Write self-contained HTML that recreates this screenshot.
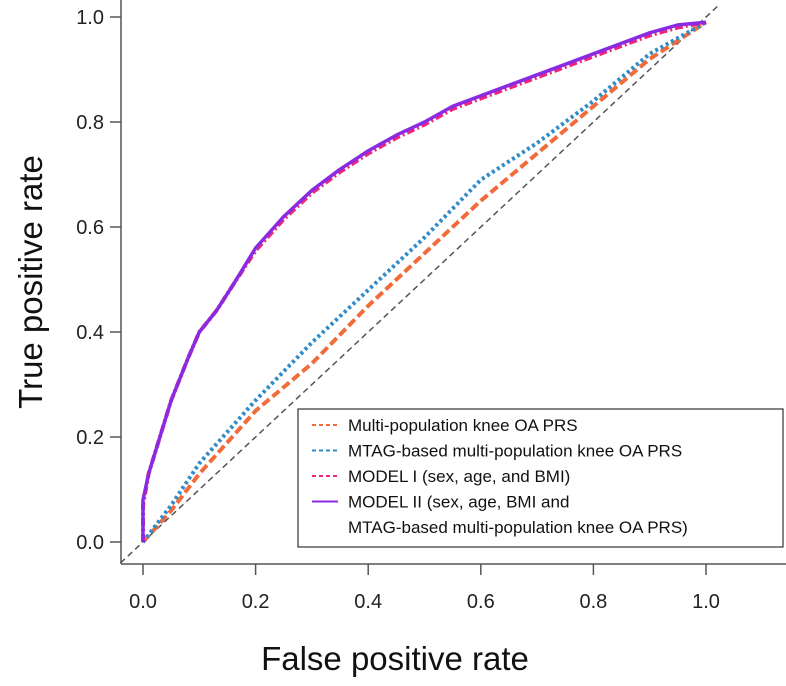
<!DOCTYPE html>
<html><head><meta charset="utf-8"><style>
body{margin:0;background:#fff;}
svg{display:block;font-family:"Liberation Sans",Arial,sans-serif;}
</style></head><body>
<svg id="chart" width="786" height="686">
<g id="axes"></g><g id="plot"></g>
<g>
<rect x="298" y="409" width="485" height="138" fill="#fff" stroke="#333" stroke-width="1.2"/>
<g id="legend-items"></g>
</g>
<text x="395" y="670" text-anchor="middle" font-size="33" fill="#111">False positive rate</text>
<text transform="translate(42,282) rotate(-90)" text-anchor="middle" font-size="33" fill="#111">True positive rate</text>
</svg>
<script>
const ticks=[0,0.2,0.4,0.6,0.8,1.0];
const tickLabels=["0.0","0.2","0.4","0.6","0.8","1.0"];
const fprM2=[0,0,0.01,0.03,0.05,0.08,0.1,0.13,0.16,0.2,0.25,0.3,0.35,0.4,0.45,0.5,0.55,0.6,0.65,0.7,0.75,0.8,0.85,0.9,0.95,1];
const tprM2=[0,0.08,0.13,0.2,0.27,0.35,0.4,0.44,0.49,0.56,0.62,0.67,0.71,0.745,0.775,0.8,0.83,0.85,0.87,0.89,0.91,0.93,0.95,0.97,0.985,0.99];
const tprM1=[0,0.07,0.13,0.2,0.27,0.35,0.4,0.44,0.49,0.555,0.615,0.665,0.705,0.74,0.77,0.795,0.825,0.845,0.865,0.885,0.905,0.925,0.945,0.965,0.98,0.99];
const fprPRS=[0,0.05,0.1,0.2,0.3,0.4,0.5,0.6,0.7,0.8,0.9,1];
const tprPRS=[0,0.06,0.13,0.25,0.34,0.45,0.55,0.65,0.74,0.83,0.92,0.99];
const tprMTAG=[0,0.07,0.15,0.27,0.38,0.48,0.58,0.69,0.76,0.84,0.93,0.99];
const X=v=>143+v*563, Y=v=>542-v*525;
const NS="http://www.w3.org/2000/svg";
function mk(p,t,a){const e=document.createElementNS(NS,t);for(const k in a)e.setAttribute(k,a[k]);p.appendChild(e);return e;}
const ax=document.getElementById('axes');
let e=mk(ax,'line',{x1:121,y1:0,x2:121,y2:564,stroke:'#555','stroke-width':1.5});


e=mk(ax,'line',{x1:121,y1:564,x2:786,y2:564,stroke:'#555','stroke-width':1.5});


ticks.forEach((t,i)=>{
 let l=mk(ax,'line',{x1:X(t),y1:564,x2:X(t),y2:575,stroke:'#555','stroke-width':1.5});
 
 
 let tx=mk(ax,'text',{x:X(t),y:608,'text-anchor':'middle','font-size':20,fill:'#222'});tx.textContent=tickLabels[i];
 
 
 l=mk(ax,'line',{x1:110,y1:Y(t),x2:121,y2:Y(t),stroke:'#555','stroke-width':1.5});
 
 
 tx=mk(ax,'text',{x:104,y:Y(t)+7,'text-anchor':'end','font-size':20,fill:'#222'});tx.textContent=tickLabels[i];
 
 
});
const pl=document.getElementById('plot');
e=mk(pl,'line',{x1:X(-0.04),y1:Y(-0.04),x2:X(1.025),y2:Y(1.025),stroke:'#555','stroke-width':1.5,'stroke-dasharray':'6,4'});


function path(xs,ys){return xs.map((x,i)=>(i?'L':'M')+X(x).toFixed(1)+','+Y(ys[i]).toFixed(1)).join('');}
const series=[
 {xs:fprPRS,ys:tprPRS,c:'#f26b3a',d:'9,4',w:4,name:'series-multi-population-prs'},
 {xs:fprPRS,ys:tprMTAG,c:'#2f8bc9',d:'3,3',w:4,name:'series-mtag-prs'},
 {xs:fprM2,ys:tprM1,c:'#f0247a',d:'8,3,2,3',w:4,name:'series-model-1'},
 {xs:fprM2,ys:tprM2,c:'#8a2be2',d:'',w:3.5,name:'series-model-2'}];
series.forEach(s=>{const p=mk(pl,'path',{d:path(s.xs,s.ys),fill:'none',stroke:s.c,'stroke-width':s.w,'stroke-dasharray':s.d,'stroke-linejoin':'round'});
 
 });
const labels=["Multi-population knee OA PRS","MTAG-based multi-population knee OA PRS","MODEL I (sex, age, and BMI)","MODEL II (sex, age, BMI and","MTAG-based multi-population knee OA PRS)"];
const lg=document.getElementById('legend-items');
labels.forEach((t,i)=>{const y=425+i*25.5;
 if(i<4){const s=series[i];const l=mk(lg,'line',{x1:312,y1:y,x2:338,y2:y,stroke:s.c,'stroke-width':2,'stroke-dasharray':s.d?'4,3':''});
  
  }
 const tx=mk(lg,'text',{x:348,y:y+6,'font-size':17,fill:'#111'});tx.textContent=t;
 
 
});
</script>
</body></html>
